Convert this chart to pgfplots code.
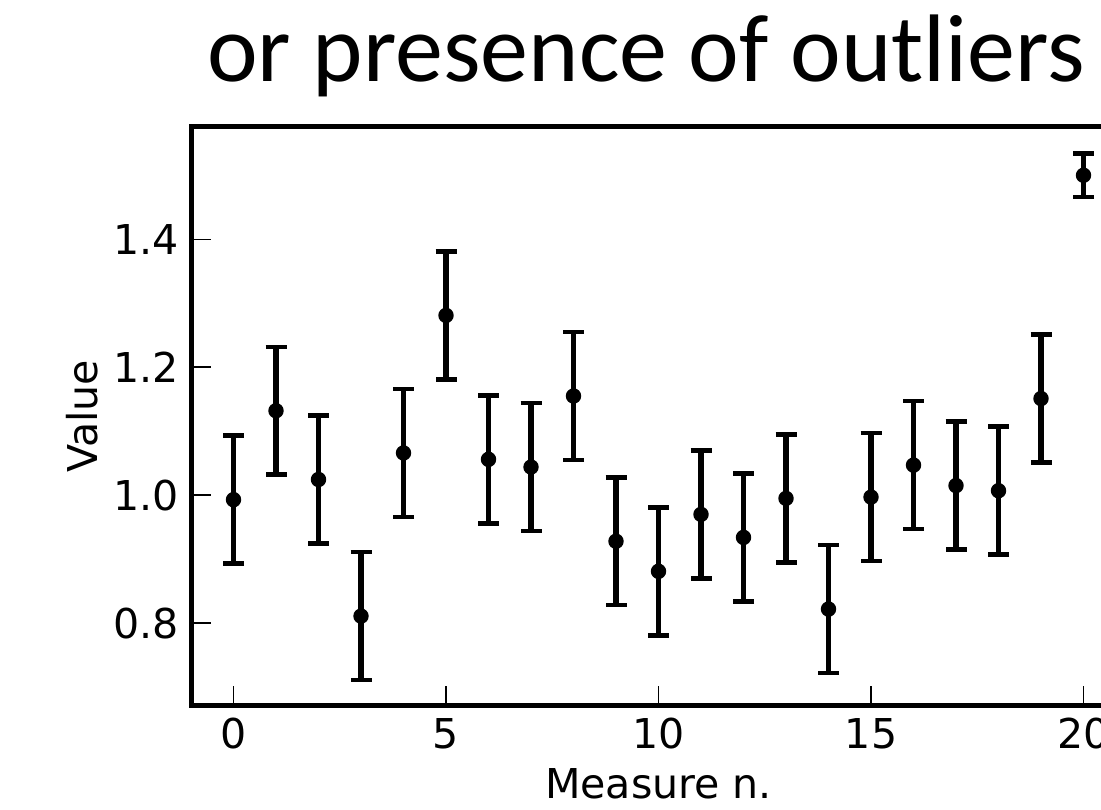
\documentclass[border=0pt]{standalone}
\usepackage{fontspec}
\setmainfont{DejaVu Sans}
\newfontfamily\titlefont{Carlito}
\usepackage{pgfplots}
\pgfplotsset{compat=1.18}
\begin{document}
\begin{tikzpicture}
\useasboundingbox (0,0) rectangle (110.1mm,80.9mm);
\clip (0,0) rectangle (110.1mm,80.9mm);
\begin{axis}[
  at={(19.1mm,10.3mm)}, anchor=south west,
  scale only axis, width=93.5mm, height=57.9mm,
  xmin=-1, xmax=21, ymin=0.6705, ymax=1.5755,
  xtick={0,5,10,15,20}, ytick={0.8,1.0,1.2,1.4},
  tick pos=left, tick align=inside, major tick length=2mm,
  tick style={line width=0.15mm, black},
  axis line style={line width=0.5mm},
  /pgf/number format/assume math mode=true,
  yticklabel style={/pgf/number format/.cd, fixed, fixed zerofill, precision=1},
  tick label style={font=\fontsize{11.7pt}{14pt}\selectfont},
  xticklabel style={anchor=base, yshift=-4.2mm},
  label style={font=\fontsize{11.7pt}{14pt}\selectfont},
  xlabel={Measure n.},
  ylabel={Value},
  xlabel style={at={(axis description cs:0.5,-0.1589)}, anchor=base},
  ylabel style={at={(axis description cs:-0.1005,0.5)}, anchor=base},
  title={or presence of outliers},
  title style={font=\titlefont\fontsize{27.3pt}{32pt}\selectfont, at={(axis description cs:0.5,1)}, anchor=base, yshift=2.4mm, xshift=-1.25mm},
]
\addplot[black, only marks, mark=*, mark size=0.7mm,
  error bars/.cd, y dir=both, y explicit,
  error mark=|,
  error bar style={line width=0.55mm, black},
  error mark options={line width=0.45mm, mark size=1.05mm, black}]
  table[x=x, y=y, y error=e] {
x y e
0 0.993 0.1
1 1.132 0.1
2 1.0245 0.1
3 0.811 0.1
4 1.066 0.1
5 1.281 0.1
6 1.056 0.1
7 1.044 0.1
8 1.155 0.1
9 0.928 0.1
10 0.881 0.1
11 0.970 0.1
12 0.934 0.1
13 0.995 0.1
14 0.822 0.1
15 0.997 0.1
16 1.047 0.1
17 1.015 0.1
18 1.007 0.1
19 1.151 0.1
20 1.500 0.034
};
\end{axis}
\end{tikzpicture}
\end{document}
